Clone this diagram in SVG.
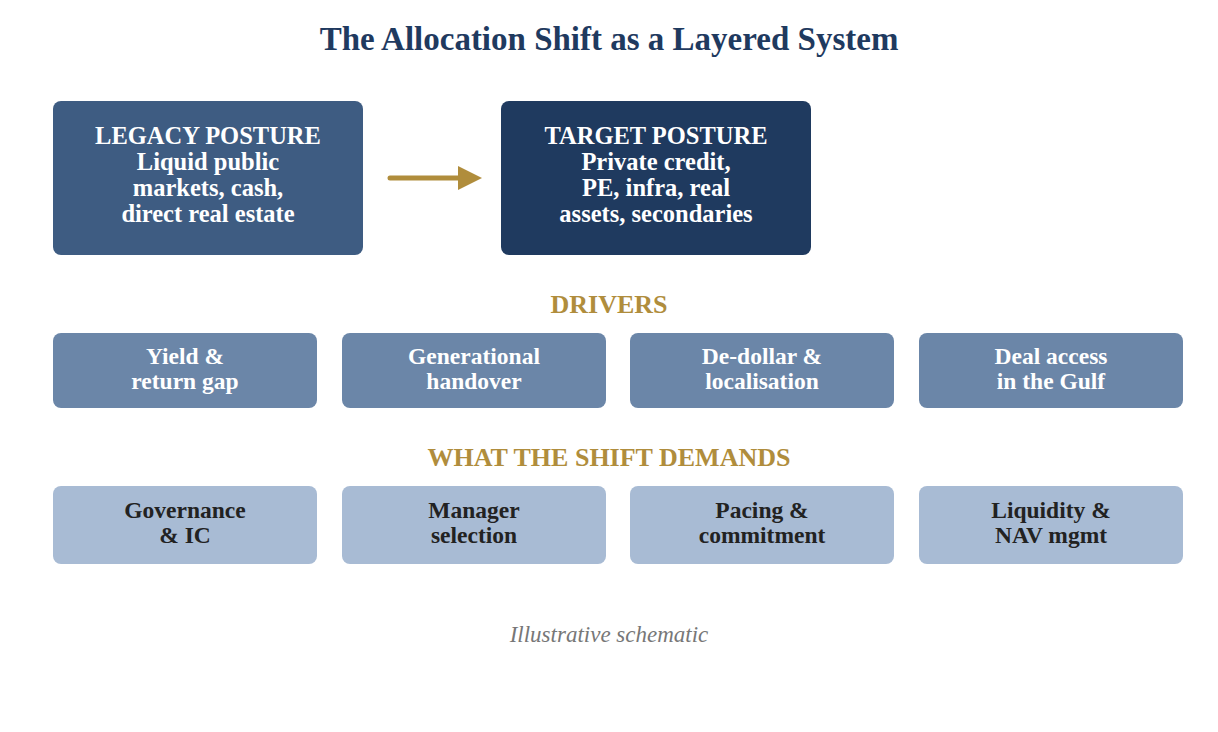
<svg xmlns="http://www.w3.org/2000/svg" width="1218" height="732" viewBox="0 0 1218 732">
<style>
text{font-family:"Liberation Serif","Times New Roman",serif;text-anchor:middle;font-weight:bold}
.t{font-size:33px;fill:#1f3a5f}
.big{font-size:24.5px;fill:#fff}
.d{font-size:23.5px;fill:#fff}
.k{font-size:23.5px;fill:#222}
.h{font-size:26px;fill:#b08d3c}
.c{font-size:23px;fill:#777;font-style:italic;font-weight:normal}
</style>
<rect width="1218" height="732" fill="#fff"/>
<text class="t" x="609" y="50">The Allocation Shift as a Layered System</text>
<g id="legacy"><rect x="53" y="101" width="310" height="154" rx="8" fill="#3e5c82"/>
<text class="big" x="208" y="144">LEGACY POSTURE</text><text class="big" x="208" y="170">Liquid public</text><text class="big" x="208" y="196">markets, cash,</text><text class="big" x="208" y="222">direct real estate</text></g>
<g id="target"><rect x="501" y="101" width="310" height="154" rx="8" fill="#1f3a5f"/>
<text class="big" x="656" y="144">TARGET POSTURE</text><text class="big" x="656" y="170">Private credit,</text><text class="big" x="656" y="196">PE, infra, real</text><text class="big" x="656" y="222">assets, secondaries</text></g>
<g id="connectors"><line x1="390" y1="178" x2="462" y2="178" stroke="#b08d3c" stroke-width="5" stroke-linecap="round"/>
<polygon points="458,166 482,178 458,190" fill="#b08d3c"/></g>
<text class="h" x="609" y="313">DRIVERS</text>
<g id="d1"><rect x="53" y="333" width="264" height="75" rx="8" fill="#6b86a8"/><text class="d" x="185" y="364">Yield &amp;</text><text class="d" x="185" y="389">return gap</text></g>
<g id="d2"><rect x="342" y="333" width="264" height="75" rx="8" fill="#6b86a8"/><text class="d" x="474" y="364">Generational</text><text class="d" x="474" y="389">handover</text></g>
<g id="d3"><rect x="630" y="333" width="264" height="75" rx="8" fill="#6b86a8"/><text class="d" x="762" y="364">De-dollar &amp;</text><text class="d" x="762" y="389">localisation</text></g>
<g id="d4"><rect x="919" y="333" width="264" height="75" rx="8" fill="#6b86a8"/><text class="d" x="1051" y="364">Deal access</text><text class="d" x="1051" y="389">in the Gulf</text></g>
<text class="h" x="609" y="466">WHAT THE SHIFT DEMANDS</text>
<g id="w1"><rect x="53" y="486" width="264" height="78" rx="8" fill="#a8bbd4"/><text class="k" x="185" y="518">Governance</text><text class="k" x="185" y="543">&amp; IC</text></g>
<g id="w2"><rect x="342" y="486" width="264" height="78" rx="8" fill="#a8bbd4"/><text class="k" x="474" y="518">Manager</text><text class="k" x="474" y="543">selection</text></g>
<g id="w3"><rect x="630" y="486" width="264" height="78" rx="8" fill="#a8bbd4"/><text class="k" x="762" y="518">Pacing &amp;</text><text class="k" x="762" y="543">commitment</text></g>
<g id="w4"><rect x="919" y="486" width="264" height="78" rx="8" fill="#a8bbd4"/><text class="k" x="1051" y="518">Liquidity &amp;</text><text class="k" x="1051" y="543">NAV mgmt</text></g>
<text class="c" x="609" y="642">Illustrative schematic</text>
</svg>
